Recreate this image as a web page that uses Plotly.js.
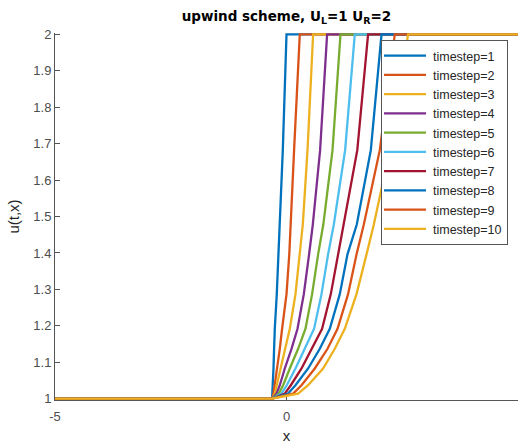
<!DOCTYPE html>
<html>
<head>
<meta charset="utf-8">
<script src="https://cdn.plot.ly/plotly-3.0.1.min.js"></script>
<style>html,body{margin:0;padding:0;background:#fff;}#chart{width:520px;height:444px;}</style>
</head>
<body>
<div id="chart"></div>
<script>
// u levels shared by every timestep profile
var uLevels = [1, 1, 1.014, 1.037, 1.083, 1.137, 1.192, 1.287, 1.396, 1.478, 1.682, 2, 2];
// x positions for each timestep at those u levels
var x1  = [-5, -0.311, -0.307, -0.296, -0.281, -0.268, -0.253, -0.210, -0.175, -0.150, -0.080, 0.000, 5];
var x2  = [-5, -0.311, -0.281, -0.253, -0.210, -0.145, -0.095, 0.000, 0.060, 0.093, 0.164, 0.287, 5];
var x3  = [-5, -0.311, -0.253, -0.210, -0.123, -0.022, 0.071, 0.194, 0.287, 0.352, 0.454, 0.575, 5];
var x4  = [-5, -0.311, -0.216, -0.145, -0.037, 0.108, 0.238, 0.374, 0.488, 0.568, 0.726, 0.877, 5];
var x5  = [-5, -0.311, -0.166, -0.073, 0.071, 0.251, 0.410, 0.553, 0.683, 0.795, 0.994, 1.166, 5];
var x6  = [-5, -0.311, -0.108, 0.006, 0.194, 0.395, 0.596, 0.756, 0.898, 1.022, 1.266, 1.475, 5];
var x7  = [-5, -0.311, -0.037, 0.093, 0.324, 0.553, 0.769, 0.957, 1.114, 1.248, 1.529, 1.762, 5];
var x8  = [-5, -0.311, 0.035, 0.194, 0.467, 0.719, 0.935, 1.151, 1.317, 1.518, 1.821, 2.052, 5];
var x9  = [-5, -0.311, 0.143, 0.324, 0.611, 0.886, 1.102, 1.330, 1.512, 1.670, 2.015, 2.339, 5];
var x10 = [-5, -0.311, 0.251, 0.467, 0.790, 1.043, 1.259, 1.512, 1.728, 1.886, 2.231, 2.626, 5];
var seriesX = [x1, x2, x3, x4, x5, x6, x7, x8, x9, x10];
var seriesNames = ['timestep=1','timestep=2','timestep=3','timestep=4','timestep=5',
                   'timestep=6','timestep=7','timestep=8','timestep=9','timestep=10'];
var colors = ['#0072BD','#D95319','#EDB120','#7E2F8E','#77AC30','#4DBEEE','#A2142F'];
var xTickVals = [-5, 0, 5];
var xTickText = ['-5', '0', '5'];
var yTickVals = [1, 1.1, 1.2, 1.3, 1.4, 1.5, 1.6, 1.7, 1.8, 1.9, 2];
var yTickText = ['1','1.1','1.2','1.3','1.4','1.5','1.6','1.7','1.8','1.9','2'];

var traces = seriesX.map(function (xs, i) {
  return {
    x: xs, y: uLevels, type: 'scatter', mode: 'lines',
    name: seriesNames[i],
    line: {color: colors[i % colors.length], width: 2.3}
  };
});

var font = 'Liberation Sans, Arial, Helvetica, sans-serif';
var layout = {
  width: 520, height: 444,
  margin: {l: 55, r: 2, t: 33, b: 44},
  paper_bgcolor: '#fff', plot_bgcolor: '#fff',
  font: {family: font, size: 13, color: '#262626'},
  showlegend: true,
  title: {
    text: '<b>upwind scheme, U<sub>L</sub>=1 U<sub>R</sub>=2</b>',
    font: {family: 'DejaVu Sans, Verdana, sans-serif', size: 13.5, color: '#000'},
    x: 0.5, xanchor: 'center', xref: 'paper',
    y: 1 - 16/444, yanchor: 'middle', yref: 'container'
  },
  xaxis: {
    range: [-5, 5], tickvals: xTickVals, ticktext: xTickText,
    ticks: 'inside', ticklen: 5, tickcolor: '#555',
    showline: true, linecolor: '#555', linewidth: 1, mirror: false,
    showgrid: false, zeroline: false, layer: 'below traces',
    ticklabelstandoff: 4,
    tickfont: {size: 13, color: '#4d4d4d'},
    title: {text: 'x', font: {size: 15, color: '#262626'}, standoff: 9}
  },
  yaxis: {
    range: [0.9965, 2.0035], tickvals: yTickVals, ticktext: yTickText,
    ticks: 'inside', ticklen: 5, tickcolor: '#555',
    showline: true, linecolor: '#555', linewidth: 1, mirror: false,
    showgrid: false, zeroline: false, layer: 'below traces',
    tickfont: {size: 13, color: '#4d4d4d'},
    title: {text: 'u(t,x)', font: {size: 15, color: '#262626'}, standoff: 10}
  },
  legend: {
    x: (381 - 55) / 463, xanchor: 'left',
    y: 1 - (40 - 33) / 367, yanchor: 'top',
    bgcolor: '#fff', bordercolor: '#555', borderwidth: 1,
    font: {family: font, size: 12.5, color: '#262626'},
    itemwidth: 41,
    tracegroupgap: 0
  }
};

Plotly.newPlot('chart', traces, layout, {displayModeBar: false, staticPlot: true}).then(function () {
  // lengthen legend line samples to match the reference
  document.querySelectorAll('#chart .legendlines path').forEach(function (p) {
    p.setAttribute('d', 'M2,0h42');
  });
});
</script>
</body>
</html>
